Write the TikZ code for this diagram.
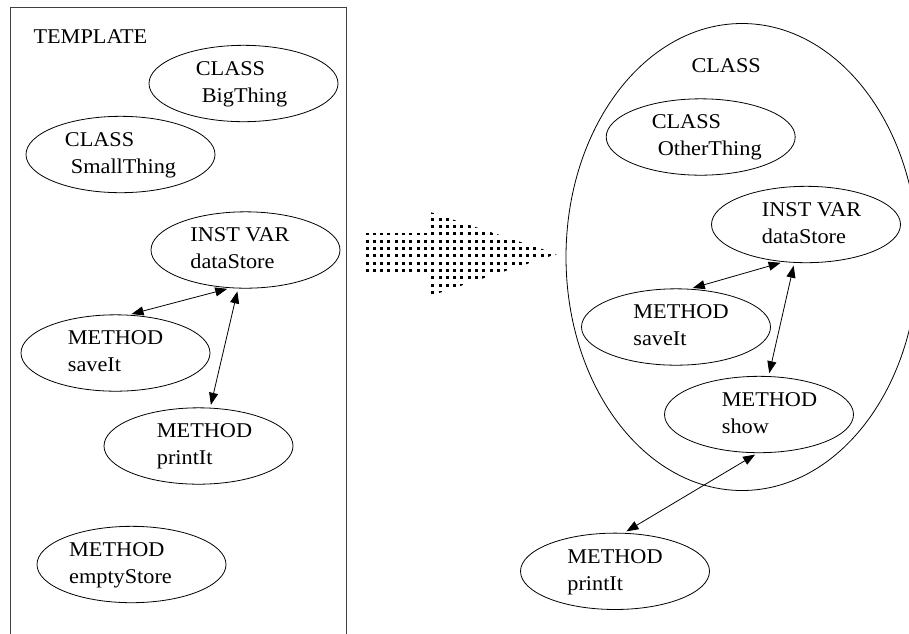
\documentclass[tikz,border=0pt]{standalone}
\usepackage{fontspec}
\setmainfont{Liberation Serif}[FakeStretch=1.06]
\usetikzlibrary{shapes.geometric,arrows.meta}

% two-line label, first arg moves the block sideways
\newcommand{\objlbl}[3][0pt]{\hspace*{#1}\begin{tabular}{@{}l@{}}#2\\#3\end{tabular}}

\begin{document}
\begin{tikzpicture}[x=1pt, y=-1pt, font=\fontsize{21}{27}\selectfont,
	obj/.style={draw, ellipse, line width=0.8pt, minimum width=189pt, minimum height=67pt, inner sep=0pt},
	link/.style={{Triangle[length=12pt,width=9pt]}-{Triangle[length=12pt,width=9pt]}, line width=0.8pt, shorten <=3pt, shorten >=3pt}]
			\useasboundingbox (0,0) rectangle (909,633);
			\clip (0,0) rectangle (909,633);
			% 模板框
			\draw[line width=1pt, black!75] (10,640) -- (10,7.5) -- (346.5,7.5) -- (346.5,640);
			\node[anchor=base west] (template) at (30,43.3) {TEMPLATE};
			\node[obj] (bigthing) at (243.5,83.5) {\objlbl[-4pt]{CLASS}{\hspace*{6pt}BigThing}};
			\node[obj] (smallthing) at (120.5,154.5) {\objlbl{CLASS}{\hspace*{6pt}SmallThing}};
			\node[obj] (ldata) at (245.5,250) {\objlbl[-11pt]{INST VAR}{dataStore}};
			\node[obj] (lsave) at (115.5,353) {\objlbl{METHOD}{saveIt}};
			\node[obj] (lprint) at (198.5,446) {\objlbl[12pt]{METHOD}{printIt}};
			\node[obj] (empty) at (131.5,564.5) {\objlbl[-22pt]{METHOD}{emptyStore}};
			\draw[link] (lsave.71) -- (ldata.248);
			\draw[link] (lprint.73) -- (ldata.259);
			% 箭头 (点阵)
			\begin{scope}
				\clip (365,233) -- (427,233) -- (427,211) -- (557,254)
					-- (427,297) -- (427,273) -- (365,273) -- cycle;
				\foreach \i in {0,...,26}
				\foreach \j in {0,...,12}
				\fill (365.5+7.3*\i, 210.5+7.3*\j) rectangle ++(3,3);
			\end{scope}
			% 类
			\node[draw, ellipse, line width=0.8pt, minimum width=352pt, minimum height=467pt] (classblob) at (742,257) {};
			\node[anchor=base west] (classtitle) at (688,72) {CLASS};
			\node[obj] (other) at (700.7,137) {\objlbl[12pt]{CLASS}{\hspace*{6pt}OtherThing}};
			\node[obj] (rdata) at (806,224.5) {\objlbl[11pt]{INST VAR}{dataStore}};
			\node[obj] (rsave) at (676,327) {\objlbl[10pt]{METHOD}{saveIt}};
			\node[obj] (show) at (759,414.5) {\objlbl[21pt]{METHOD}{show}};
			\node[obj] (rprint) at (615,571.3) {\objlbl{METHOD}{printIt}};
			\draw[link] (rsave.70) -- (rdata.239);
			\draw[link] (show.76) -- (rdata.253);
			\draw[link] (rprint.77) -- (show.268);
		\end{tikzpicture}
\end{document}
